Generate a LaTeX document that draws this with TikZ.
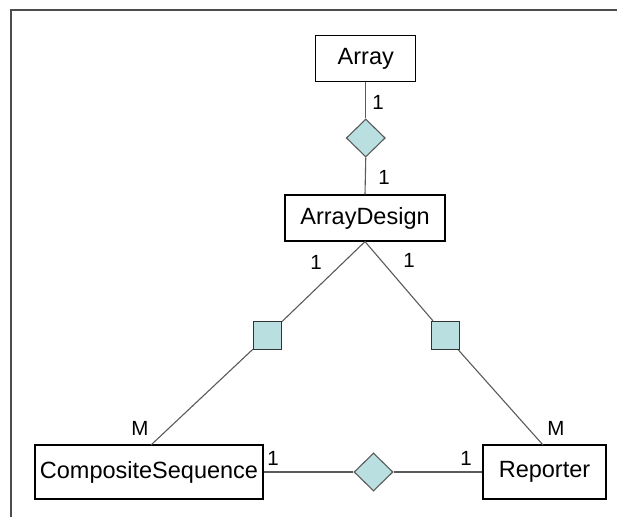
\documentclass[tikz,border=0pt]{standalone}
\usepackage{fontspec}
\setmainfont{Liberation Sans}
\usetikzlibrary{shapes.geometric}

\definecolor{linkfill}{HTML}{B9DFE1}
\definecolor{linkline}{HTML}{5A5A5A}

\tikzset{
  entity/.style={draw=black, line width=1.2pt, fill=white, inner sep=0pt,
                 font=\fontsize{23.5}{26}\selectfont},
  relation/.style={diamond, aspect=1, draw=linkline, line width=1.1pt, fill=linkfill,
                   inner sep=0pt, minimum width=39pt, minimum height=38pt},
  assoc/.style={rectangle, draw=black!80, line width=1.3pt, fill=linkfill,
                inner sep=0pt, minimum size=28pt},
  link/.style={draw=linkline, line width=1.1pt},
  card/.style={inner sep=0pt, font=\fontsize{20.5}{22}\selectfont},
  frameline/.style={draw=black!70, line width=1.4pt}
}

\begin{document}
\begin{tikzpicture}[x=1pt, y=1pt]
  \useasboundingbox (0,0) rectangle (617,-517);

  % outer frame
  \draw[frameline] (11,-517) -- (11,-10) -- (617,-10);

  % entities
  \node[entity, minimum width=100pt, minimum height=46pt] (arr) at (365.75,-58.7) {Array};
  \node[entity, minimum width=160pt, minimum height=46pt] (ad)  at (365,-218) {ArrayDesign};
  \node[entity, minimum width=228pt, minimum height=54pt] (cs)  at (149,-472) {CompositeSequence};
  \node[entity, minimum width=123pt, minimum height=54pt] (rep) at (544.5,-472) {Reporter};

  % relationship symbols
  \node[relation] (dTop) at (365.75,-138) {};
  \node[relation] (dBot) at (373.5,-472) {};
  \node[assoc] (sqL) at (267.5,-335.5) {};
  \node[assoc] (sqR) at (445.5,-335.5) {};

  % connector ends on the upper edges of the lower boxes
  \coordinate (csTop)  at (151,-445);
  \coordinate (repTop) at (543,-445);

  % connectors
  \draw[link] (arr.south) -- (dTop.north);
  \draw[link] (dTop.south) -- (ad.north);
  \draw[link] (ad.south) -- (sqL);
  \draw[link] (sqL) -- (csTop);
  \draw[link] (ad.south) -- (sqR);
  \draw[link] (sqR) -- (repTop);
  \draw[link] (cs.east) -- (dBot.west);
  \draw[link] (dBot.east) -- (rep.west);

  % cardinalities
  \node[card] (c1) at (378,-102) {1};
  \node[card] (c2) at (384,-177) {1};
  \node[card] (c3) at (316,-262) {1};
  \node[card] (c4) at (409,-260) {1};
  \node[card] (c5) at (140,-428) {M};
  \node[card] (c6) at (556,-428) {M};
  \node[card] (c7) at (273,-458) {1};
  \node[card] (c8) at (466,-458) {1};
\end{tikzpicture}
\end{document}
